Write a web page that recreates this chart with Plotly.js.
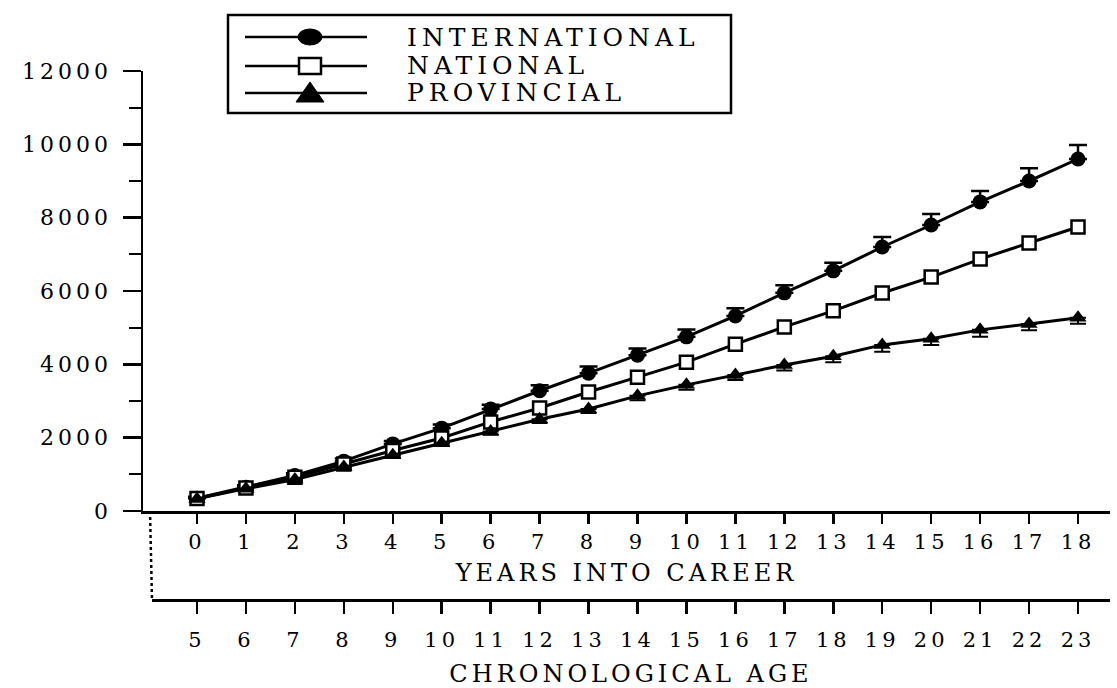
<!DOCTYPE html>
<html>
<head>
<meta charset="utf-8">
<script src="https://cdn.plot.ly/plotly-3.0.1.min.js"></script>
<style>
  html, body { margin: 0; padding: 0; background: #fff; }
  #chart { width: 1117px; height: 688px; }
  .ytick text { letter-spacing: 4px; }
  .xtick text, .x2tick text { letter-spacing: 4px; }
  .g-xtitle text, .g-x2title text { letter-spacing: 4px; }
  .annotation-text { letter-spacing: 5px; }
</style>
</head>
<body>
<div id="chart"></div>
<script>
// ---- data ----
const years = [0, 1, 2, 3, 4, 5, 6, 7, 8, 9, 10, 11, 12, 13, 14, 15, 16, 17, 18];
const ages  = [5, 6, 7, 8, 9, 10, 11, 12, 13, 14, 15, 16, 17, 18, 19, 20, 21, 22, 23];

const intMean  = [350, 650, 970, 1360, 1830, 2260, 2780, 3280, 3760, 4250, 4750, 5320, 5950, 6550, 7200, 7800, 8430, 9000, 9600];
const intErr   = [40, 50, 60, 70, 80, 100, 120, 150, 180, 180, 200, 210, 210, 220, 270, 300, 300, 350, 380];

const natMean  = [340, 630, 920, 1280, 1650, 1990, 2430, 2810, 3245, 3650, 4060, 4550, 5020, 5460, 5945, 6380, 6870, 7310, 7745];
const natErr   = [30, 40, 50, 60, 70, 80, 90, 100, 110, 110, 120, 120, 130, 130, 140, 140, 150, 150, 160];

const provMean = [330, 610, 860, 1200, 1520, 1850, 2170, 2500, 2780, 3140, 3440, 3710, 3980, 4220, 4530, 4700, 4940, 5100, 5270];
const provErr  = [30, 40, 50, 60, 70, 80, 90, 100, 110, 120, 130, 140, 150, 160, 190, 170, 190, 170, 160];

const yTickVals = [0, 2000, 4000, 6000, 8000, 10000, 12000];
const seriesNames = ["INTERNATIONAL", "NATIONAL", "PROVINCIAL"];

const xTitle  = "YEARS INTO CAREER";
const x2Title = "CHRONOLOGICAL AGE";

// ---- figure ----
const FONT = "DejaVu Serif, Liberation Serif, serif";
const zeros = a => a.map(() => 0);

const traces = [
  // invisible companion trace so the chronological-age axis is drawn
  {
    x: ages, y: intMean, xaxis: "x2", yaxis: "y", type: "scatter", mode: "markers",
    marker: { opacity: 0, size: 1 }, hoverinfo: "skip", showlegend: false
  },
  {
    x: years, y: intMean, name: seriesNames[0], type: "scatter", mode: "lines+markers",
    line: { color: "#000", width: 3 },
    marker: { symbol: "circle", size: 15, color: "#000" },
    error_y: { type: "data", symmetric: false, array: intErr, arrayminus: zeros(intErr),
               color: "#000", thickness: 2.5, width: 9 },
    showlegend: false
  },
  {
    x: years, y: natMean, name: seriesNames[1], type: "scatter", mode: "lines+markers",
    line: { color: "#000", width: 3 },
    marker: { symbol: "square", size: 13, color: "#fff", line: { color: "#000", width: 2.5 } },
    error_y: { type: "data", symmetric: false, array: natErr, arrayminus: zeros(natErr),
               color: "#000", thickness: 2, width: 6 },
    showlegend: false
  },
  {
    x: years, y: provMean, name: seriesNames[2], type: "scatter", mode: "lines+markers",
    line: { color: "#000", width: 3 },
    marker: { symbol: "triangle-up", size: 15, color: "#000" },
    error_y: { type: "data", symmetric: false, array: zeros(provErr), arrayminus: provErr,
               color: "#000", thickness: 2, width: 8 },
    showlegend: false
  }
];

// pixel geometry helpers (plot area: x 143..1110, y 71..600)
const L = 143, R = 1110, T = 71, B = 600;
const W = R - L, H = B - T;
const px = v => (v - L) / W;
const py = v => (B - v) / H;

const yDomBottom = py(511);
const pxPerYear = (1078 - 197) / 18;
const xr0 = (L - 197) / pxPerYear;
const xr1 = (R - 197) / pxPerYear;
const x2Start = 152;
const x2r0 = ages[0] + (x2Start - 197) / pxPerYear;
const x2r1 = ages[0] + (R - 197) / pxPerYear;

// custom legend (box, line samples, marker glyphs, labels)
const legRows = [37, 66, 93];
const lineX0 = px(245), lineX1 = px(367), mkX = px(310), txtX = px(405);
const shapes = [
  { type: "rect", xref: "paper", yref: "paper", x0: px(228), x1: px(731), y0: py(113), y1: py(15),
    line: { color: "#000", width: 2.5 }, fillcolor: "rgba(0,0,0,0)" },
  // dotted connector between the two x axes
  { type: "line", xref: "paper", yref: "paper", x0: px(x2Start - 2), x1: px(x2Start), y0: yDomBottom, y1: 0,
    line: { color: "#000", width: 2.5, dash: "dot" } }
];
legRows.forEach(r => {
  shapes.push({ type: "line", xref: "paper", yref: "paper", x0: lineX0, x1: lineX1, y0: py(r), y1: py(r),
                line: { color: "#000", width: 2.5 } });
});
shapes.push({ type: "circle", xref: "paper", yref: "paper", xsizemode: "pixel", ysizemode: "pixel",
              xanchor: mkX, yanchor: py(legRows[0]), x0: -12, x1: 12, y0: -8, y1: 8,
              fillcolor: "#000", line: { color: "#000", width: 1 } });
shapes.push({ type: "rect", xref: "paper", yref: "paper", xsizemode: "pixel", ysizemode: "pixel",
              xanchor: mkX, yanchor: py(legRows[1]), x0: -11, x1: 11, y0: -8, y1: 8,
              fillcolor: "#fff", line: { color: "#000", width: 2.5 } });
shapes.push({ type: "path", xref: "paper", yref: "paper", xsizemode: "pixel", ysizemode: "pixel",
              xanchor: mkX, yanchor: py(legRows[2]),
              path: "M -14 -9 L 14 -9 L 0 11 Z",
              fillcolor: "#000", line: { color: "#000", width: 1 } });

const annotations = seriesNames.map((n, i) => ({
  text: n, xref: "paper", yref: "paper", x: txtX, y: py(legRows[i]),
  xanchor: "left", yanchor: "middle", showarrow: false,
  font: { family: FONT, size: 25, color: "#000" }
}));

const layout = {
  width: 1117, height: 688,
  paper_bgcolor: "#fff", plot_bgcolor: "rgba(0,0,0,0)",
  margin: { l: L, r: 1117 - R, t: T, b: 688 - B, pad: 0 },
  showlegend: false,
  font: { family: FONT, color: "#000" },
  xaxis: {
    range: [xr0, xr1], anchor: "y", domain: [0, 1],
    showline: true, linecolor: "#000", linewidth: 2.5,
    showgrid: false, zeroline: false,
    ticks: "outside", ticklen: 10, tickwidth: 2.5, tickcolor: "#000",
    tickmode: "array", tickvals: years, ticktext: years.map(String),
    tickfont: { family: FONT, size: 21, color: "#000" },
    title: { text: xTitle, font: { family: FONT, size: 24, color: "#000" }, standoff: 12 }
  },
  xaxis2: {
    range: [x2r0, x2r1],
    anchor: "free", position: 0, side: "bottom",
    domain: [px(x2Start), 1],
    showline: true, linecolor: "#000", linewidth: 2.5,
    showgrid: false, zeroline: false,
    ticks: "outside", ticklen: 12, tickwidth: 2.5, tickcolor: "#000",
    tickmode: "array", tickvals: ages, ticktext: ages.map(String),
    ticklabelstandoff: 8,
    tickfont: { family: FONT, size: 21, color: "#000" },
    title: { text: x2Title, font: { family: FONT, size: 24, color: "#000" }, standoff: 16 }
  },
  yaxis: {
    range: [0, 12000], domain: [yDomBottom, 1], anchor: "x",
    showline: true, linecolor: "#000", linewidth: 2.5,
    showgrid: false, zeroline: false,
    ticks: "outside", ticklen: 18, tickwidth: 2.5, tickcolor: "#000",
    tickmode: "array", tickvals: yTickVals, ticktext: yTickVals.map(String),
    ticklabelstandoff: 6,
    minor: { dtick: 1000, ticks: "outside", ticklen: 12, tickwidth: 2, tickcolor: "#000", showgrid: false },
    tickfont: { family: FONT, size: 22, color: "#000" }
  },
  shapes: shapes,
  annotations: annotations
};

Plotly.newPlot("chart", traces, layout, { displayModeBar: false, staticPlot: true });
</script>
</body>
</html>
